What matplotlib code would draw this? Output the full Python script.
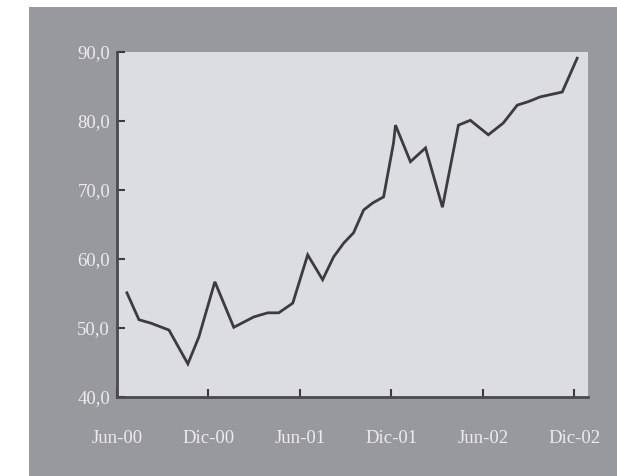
import matplotlib
matplotlib.use("Agg")
import matplotlib.pyplot as plt
from matplotlib.patches import Rectangle

# Month offsets from June 2000 and index values
months = [0.65, 1.44, 2.23, 3.41, 4.65, 5.37, 6.42, 7.66, 8.97, 9.89, 10.61,
          11.53, 12.51, 13.49, 14.21, 14.87, 15.52, 16.18, 16.76, 17.49, 18.14,
          18.27, 19.25, 20.24, 21.35, 22.40, 23.18, 24.36, 25.34, 26.26, 26.98,
          27.77, 29.21, 30.19]
values = [55.1, 51.2, 50.7, 49.7, 44.8, 48.7, 56.7, 50.1, 51.6, 52.2, 52.2,
          53.6, 60.6, 57.0, 60.3, 62.3, 63.8, 67.1, 68.1, 69.0, 76.8,
          79.4, 74.1, 76.1, 67.5, 79.4, 80.1, 78.0, 79.7, 82.3, 82.8,
          83.5, 84.2, 89.1]

x_tick_pos = [0, 6, 12, 18, 24, 30]
x_tick_labels = ["Jun-00", "Dic-00", "Jun-01", "Dic-01", "Jun-02", "Dic-02"]
y_ticks = [40, 50, 60, 70, 80, 90]
y_tick_labels = ["40,0", "50,0", "60,0", "70,0", "80,0", "90,0"]

W, H = 617, 476
fig = plt.figure(figsize=(W / 100, H / 100), dpi=100, facecolor="white")

# grey panel behind the chart
fig.patches.append(Rectangle((29 / W, 0), 1 - 29 / W, 1 - 7 / H,
                             transform=fig.transFigure, facecolor="#98999d",
                             edgecolor="none", zorder=-10))

ax = fig.add_axes([117 / W, 1 - 397 / H, (588 - 117) / W, (397 - 52) / H])
ax.set_zorder(1)
ax.set_facecolor("#dcdde0")
ax.plot(months, values, color="#3c3c3e", linewidth=2.0, solid_joinstyle="miter")

ax.set_xlim(0, 30.9)
ax.set_ylim(40, 90)

ax.set_xticks(x_tick_pos)
ax.set_xticklabels(x_tick_labels)
ax.set_yticks(y_ticks)
ax.set_yticklabels(y_tick_labels)

for s in ("top", "right"):
    ax.spines[s].set_visible(False)
for s in ("left", "bottom"):
    ax.spines[s].set_color("#4a4a4c")
    ax.spines[s].set_linewidth(2.0)

ax.tick_params(axis="both", direction="in", color="#3c3c3e", width=1.5,
               length=6, labelcolor="#ececec", labelsize=13.5)
ax.tick_params(axis="x", pad=24)
ax.tick_params(axis="y", pad=5)
for lab in ax.get_xticklabels() + ax.get_yticklabels():
    lab.set_fontfamily("Liberation Serif")

fig.savefig("out.png", dpi=100, facecolor="white")
